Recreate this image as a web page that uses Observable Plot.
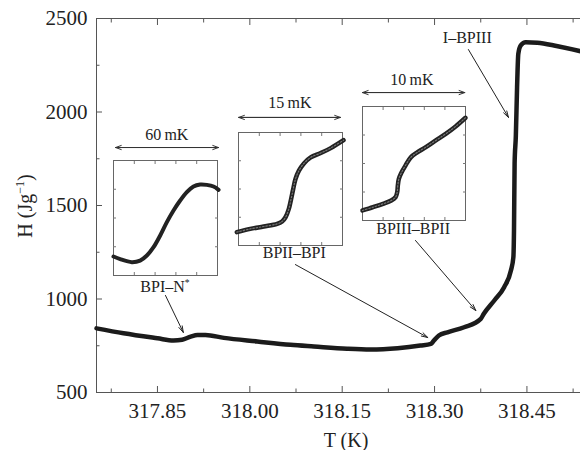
<!DOCTYPE html>
<html><head><meta charset="utf-8">
<script src="https://cdn.jsdelivr.net/npm/d3@7"></script>
<script src="https://cdn.jsdelivr.net/npm/@observablehq/plot@0.6"></script>
<style>
body{margin:0;background:#fff;}
#wrap{position:relative;width:580px;height:450px;font-family:"Liberation Serif","Times New Roman",Times,serif;color:#222;overflow:hidden;}
#wrap svg text{font-family:"Liberation Serif","Times New Roman",Times,serif;}
.lab{position:absolute;transform:translate(-50%,-50%);white-space:nowrap;font-size:16px;line-height:1;}
.title{position:absolute;white-space:nowrap;font-size:20px;line-height:1;}
sup{font-size:0.6em;vertical-align:super;line-height:0;}
.inset{position:absolute;}
</style></head><body><div id="wrap"></div>
<script>
// Main curve: temperature (K) and enthalpy (J/g)
const mainT = [317.751, 317.795, 317.850, 317.876, 317.890, 317.904, 317.915, 317.928, 317.958, 318.012, 318.066, 318.104, 318.158, 318.196, 318.240, 318.277, 318.294, 318.299, 318.307, 318.321, 318.348, 318.375, 318.380, 318.397, 318.413, 318.424, 318.428, 318.429, 318.430, 318.432, 318.434, 318.436, 318.440, 318.448, 318.467, 318.494, 318.537];
const mainH = [843, 817, 790, 778, 782, 799, 808, 808, 792, 773, 755, 746, 734, 730, 737, 751, 760, 778, 805, 822, 849, 894, 921, 992, 1063, 1152, 1224, 1366, 1725, 1872, 2133, 2311, 2356, 2373, 2370, 2356, 2325];

const xTicks = [317.85, 318.00, 318.15, 318.30, 318.45];
const xMinor = [317.775, 317.925, 318.075, 318.225, 318.375, 318.525];
const yTicks = [500, 1000, 1500, 2000, 2500];
const yMinor = [750, 1250, 1750, 2250];

// Insets (normalized units inside each box)
const in1X = [0, 0.064, 0.176, 0.256, 0.321, 0.385, 0.449, 0.513, 0.577, 0.641, 0.705, 0.769, 0.833, 0.897, 0.962, 1.01];
const in1Y = [0.165, 0.142, 0.116, 0.130, 0.174, 0.246, 0.348, 0.464, 0.565, 0.652, 0.725, 0.774, 0.791, 0.788, 0.774, 0.745];
const in2X = [-0.016, 0.113, 0.242, 0.371, 0.419, 0.452, 0.484, 0.506, 0.526, 0.548, 0.581, 0.629, 0.694, 0.790, 0.887, 1.010];
const in2Y = [0.118, 0.147, 0.168, 0.191, 0.212, 0.250, 0.324, 0.412, 0.500, 0.588, 0.662, 0.726, 0.779, 0.818, 0.862, 0.932];
const in3X = [0, 0.103, 0.199, 0.279, 0.321, 0.337, 0.343, 0.353, 0.375, 0.417, 0.471, 0.535, 0.615, 0.712, 0.808, 0.904, 1.0];
const in3Y = [0.088, 0.117, 0.146, 0.175, 0.205, 0.249, 0.307, 0.365, 0.415, 0.482, 0.556, 0.599, 0.643, 0.702, 0.760, 0.825, 0.901];

// Annotations (data coordinates)
const arrows = [
  {T1: 317.863, H1: 1019, T2: 317.892, H2: 821},
  {T1: 318.074, H1: 1184, T2: 318.289, H2: 794},
  {T1: 318.269, H1: 1313, T2: 318.367, H2: 938},
  {T1: 318.355, H1: 2334, T2: 318.420, H2: 1971}
];
const spans = [
  {Ta: 317.782, Tb: 317.949, H: 1810},
  {Ta: 317.982, Tb: 318.147, H: 1971},
  {Ta: 318.183, Tb: 318.349, H: 2104}
];
const labels = [
  {html: "60\u2009mK", T: 317.866, H: 1874},
  {html: "15\u2009mK", T: 318.066, H: 2045},
  {html: "10\u2009mK", T: 318.264, H: 2168},
  {html: "BPI–N<sup>*</sup>", T: 317.863, H: 1061},
  {html: "BPII–BPI", T: 318.073, H: 1243},
  {html: "BPIII–BPII", T: 318.266, H: 1372},
  {html: "I–BPIII", T: 318.354, H: 2393}
];

const mainData = mainT.map((t, i) => ({T: t, H: mainH[i]}));
const axisStroke = "#555";
const serif = "'Liberation Serif', 'Times New Roman', Times, serif";

const main = Plot.plot({
  width: 580, height: 450,
  marginLeft: 96, marginRight: 0, marginTop: 18, marginBottom: 58,
  style: {fontFamily: serif, fontSize: "21px", color: "#222", background: "transparent", overflow: "visible"},
  x: {domain: [317.751, 318.537]},
  y: {domain: [500, 2500]},
  marks: [
    Plot.ruleY([2500], {stroke: axisStroke}),
    Plot.ruleY([500], {stroke: axisStroke}),
    Plot.ruleX([317.751], {stroke: axisStroke}),
    Plot.axisX({ticks: xTicks, tickSize: -6, tickPadding: 17, tickFormat: d3.format(".2f"), label: null, stroke: axisStroke}),
    Plot.axisX({ticks: xMinor, tickSize: -3.5, tickFormat: () => "", label: null, stroke: axisStroke}),
    Plot.axisX({anchor: "top", ticks: xTicks, tickSize: -6, tickFormat: () => "", label: null, stroke: axisStroke}),
    Plot.axisX({anchor: "top", ticks: xMinor, tickSize: -3.5, tickFormat: () => "", label: null, stroke: axisStroke}),
    Plot.axisY({ticks: yTicks, tickSize: -6, tickPadding: 15, tickFormat: d3.format("d"), label: null, stroke: axisStroke}),
    Plot.axisY({ticks: yMinor, tickSize: -3.5, tickFormat: () => "", label: null, stroke: axisStroke}),
    Plot.line(mainData, {x: "T", y: "H", stroke: "#1b1b1b", strokeWidth: 4.5, curve: "monotone-x", strokeLinejoin: "round", strokeLinecap: "round"}),
    Plot.arrow(arrows, {x1: "T1", y1: "H1", x2: "T2", y2: "H2", stroke: "#222", strokeWidth: 1, headLength: 10, headAngle: 32}),
    Plot.arrow(spans, {x1: "Ta", y1: "H", x2: "Tb", y2: "H", stroke: "#333", strokeWidth: 1, headLength: 9, headAngle: 40}),
    Plot.arrow(spans, {x1: "Tb", y1: "H", x2: "Ta", y2: "H", stroke: "#333", strokeWidth: 1, headLength: 9, headAngle: 40})
  ]
});
const wrap = document.getElementById("wrap");
wrap.appendChild(main);
main.style.position = "absolute"; main.style.left = "0"; main.style.top = "0";

const xs = main.scale("x"), ys = main.scale("y");
for (const l of labels) {
  const d = document.createElement("div");
  d.className = "lab";
  d.innerHTML = l.html;
  d.style.left = xs.apply(l.T) + "px";
  d.style.top = ys.apply(l.H) + "px";
  wrap.appendChild(d);
}

// axis titles
const yt = document.createElement("div");
yt.className = "title";
yt.innerHTML = "H (Jg<sup>−1</sup>)";
yt.style.left = "25px"; yt.style.top = "206px";
yt.style.transform = "translate(-50%,-50%) rotate(-90deg)";
wrap.appendChild(yt);
const xt = document.createElement("div");
xt.className = "title";
xt.innerHTML = "T (K)";
xt.style.left = "346px"; xt.style.top = "440px";
xt.style.transform = "translate(-50%,-50%)";
wrap.appendChild(xt);

function inset(X, Y, box, sw, textured) {
  const pad = 4;
  const data = X.map((x, i) => ({x, y: Y[i]}));
  const marks = [
    Plot.frame({stroke: "#666", strokeWidth: 1}),
    Plot.axisX({ticks: [0.2, 0.4, 0.6, 0.8], tickSize: -3, tickFormat: () => "", label: null, stroke: "#777"}),
    Plot.axisX({anchor: "top", ticks: [0.2, 0.4, 0.6, 0.8], tickSize: -3, tickFormat: () => "", label: null, stroke: "#777"}),
    Plot.axisY({ticks: [0.25, 0.5, 0.75], tickSize: -3, tickFormat: () => "", label: null, stroke: "#777"}),
    Plot.axisY({anchor: "right", ticks: [0.25, 0.5, 0.75], tickSize: -3, tickFormat: () => "", label: null, stroke: "#777"}),
    Plot.line(data, {x: "x", y: "y", stroke: "#222", strokeWidth: sw, curve: "catmull-rom", strokeLinecap: "round"})
  ];
  if (textured) marks.push(Plot.line(data, {x: "x", y: "y", stroke: "#777", strokeWidth: 1.2, strokeDasharray: "1.5 1.8", curve: "catmull-rom"}));
  const p = Plot.plot({
    width: box.w + 2 * pad, height: box.h + 2 * pad, margin: pad,
    style: {background: "transparent", overflow: "visible"},
    x: {domain: [0, 1]}, y: {domain: [0, 1]},
    marks
  });
  const d = document.createElement("div");
  d.className = "inset";
  d.style.left = (box.x - pad) + "px"; d.style.top = (box.y - pad) + "px";
  d.appendChild(p);
  wrap.appendChild(d);
}
inset(in1X, in1Y, {x: 113, y: 160, w: 104, h: 115}, 4, false);
inset(in2X, in2Y, {x: 238, y: 132, w: 104, h: 113}, 4.5, true);
inset(in3X, in3Y, {x: 362, y: 106, w: 103, h: 114}, 4.5, true);
</script>
</body></html>
